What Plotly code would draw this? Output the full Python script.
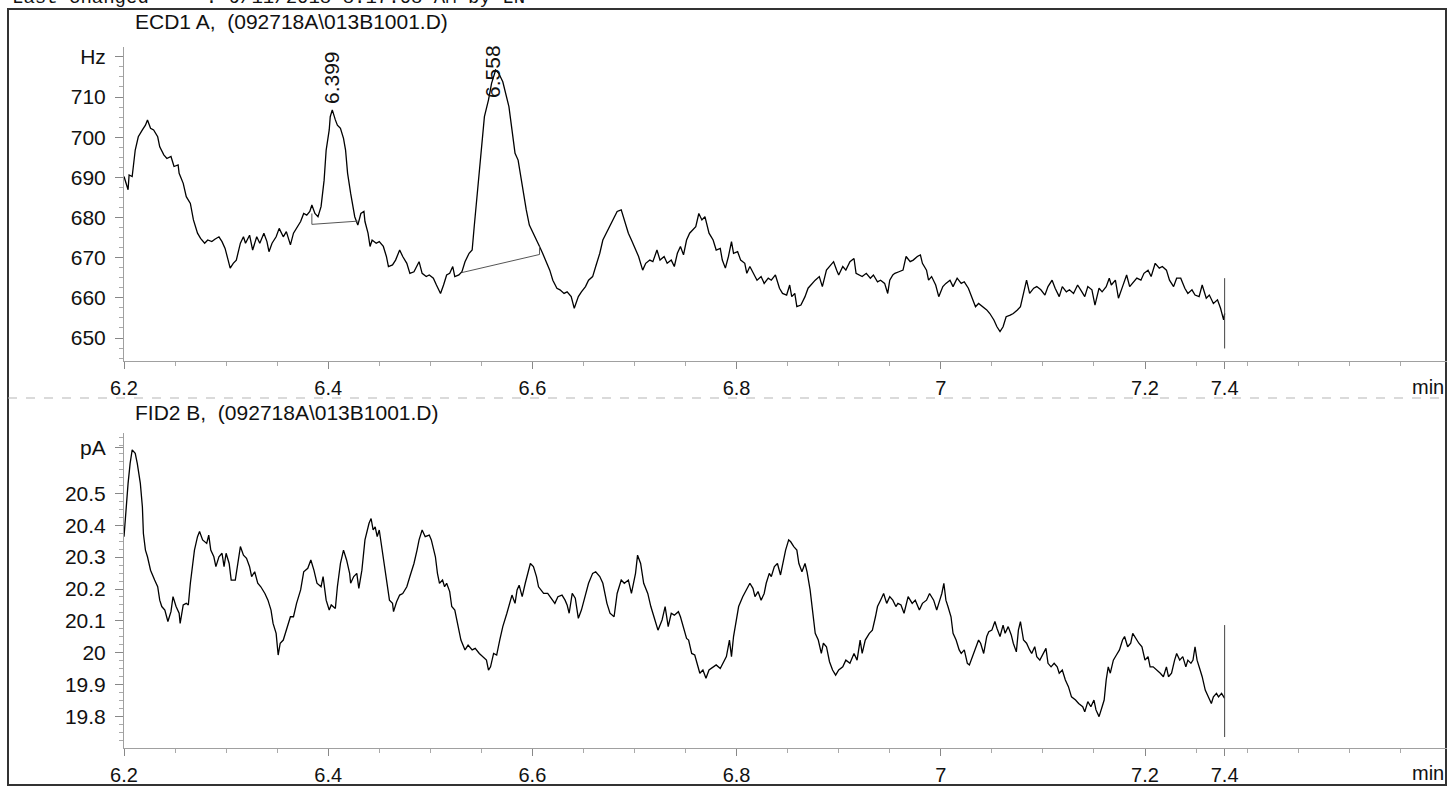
import plotly.graph_objects as go

# ---------------- data ----------------
ECD_T = [6.200, 6.204, 6.205, 6.208, 6.211, 6.214, 6.218, 6.221, 6.223, 6.226,
         6.229, 6.233, 6.235, 6.239, 6.242, 6.246, 6.249, 6.253, 6.254, 6.258,
         6.261, 6.265, 6.268, 6.272, 6.275, 6.279, 6.282, 6.286, 6.289, 6.293,
         6.296, 6.299, 6.302, 6.304, 6.307, 6.310, 6.314, 6.317, 6.319, 6.323,
         6.326, 6.330, 6.333, 6.337, 6.340, 6.342, 6.345, 6.349, 6.352, 6.356,
         6.359, 6.363, 6.366, 6.370, 6.373, 6.376, 6.379, 6.382, 6.384, 6.387,
         6.390, 6.393, 6.396, 6.398, 6.401, 6.402, 6.404, 6.407, 6.409, 6.412,
         6.415, 6.417, 6.419, 6.422, 6.424, 6.426, 6.429, 6.432, 6.435, 6.436,
         6.439, 6.441, 6.443, 6.447, 6.450, 6.454, 6.457, 6.459, 6.463, 6.466,
         6.470, 6.473, 6.477, 6.480, 6.484, 6.487, 6.489, 6.492, 6.496, 6.499,
         6.503, 6.506, 6.510, 6.513, 6.516, 6.519, 6.522, 6.524, 6.528, 6.531,
         6.534, 6.538, 6.541, 6.543, 6.547, 6.550, 6.553, 6.557, 6.560, 6.564,
         6.567, 6.571, 6.574, 6.577, 6.580, 6.583, 6.586, 6.588, 6.591, 6.594,
         6.597, 6.601, 6.604, 6.607, 6.610, 6.613, 6.617, 6.620, 6.624, 6.627,
         6.631, 6.634, 6.638, 6.641, 6.645, 6.648, 6.652, 6.655, 6.659, 6.662,
         6.666, 6.669, 6.673, 6.676, 6.680, 6.683, 6.687, 6.690, 6.694, 6.697,
         6.701, 6.704, 6.708, 6.711, 6.715, 6.718, 6.722, 6.725, 6.729, 6.732,
         6.736, 6.739,
         6.742, 6.745, 6.748, 6.751, 6.754, 6.758, 6.760, 6.763, 6.766, 6.769,
         6.770, 6.773, 6.777, 6.780, 6.784, 6.786, 6.789, 6.792, 6.795, 6.797,
         6.801, 6.804, 6.808, 6.810, 6.813, 6.817, 6.820, 6.824, 6.827, 6.831,
         6.834, 6.838, 6.842, 6.845, 6.849, 6.852, 6.854, 6.857, 6.859, 6.863,
         6.867, 6.870, 6.874, 6.877, 6.881, 6.884, 6.888, 6.891, 6.895, 6.898,
         6.900, 6.904, 6.907, 6.911, 6.915, 6.917, 6.920, 6.923, 6.927, 6.931,
         6.934, 6.938, 6.941, 6.945, 6.948, 6.950, 6.953, 6.955, 6.959, 6.963,
         6.966, 6.970, 6.973, 6.977, 6.980, 6.982, 6.986, 6.988, 6.991, 6.995,
         6.998, 7.002, 7.005, 7.009, 7.012, 7.016, 7.020, 7.023, 7.027, 7.030,
         7.034, 7.037, 7.041, 7.045, 7.048, 7.052, 7.055, 7.058, 7.061, 7.064,
         7.068, 7.071, 7.075, 7.078, 7.081, 7.084, 7.087, 7.091, 7.094, 7.098,
         7.102, 7.105, 7.109, 7.112, 7.116, 7.119, 7.123, 7.126, 7.130, 7.134,
         7.137, 7.141, 7.144, 7.148, 7.151, 7.155, 7.158, 7.162, 7.165, 7.167,
         7.171, 7.174, 7.178, 7.182, 7.185, 7.189, 7.192, 7.196, 7.199, 7.203,
         7.206, 7.210, 7.214, 7.217, 7.221, 7.224, 7.228, 7.231, 7.235, 7.239,
         7.242, 7.246, 7.249, 7.253, 7.256, 7.260, 7.263, 7.267, 7.271, 7.274,
         7.277, 7.278]

ECD_HZ = [690.2, 686.9, 690.6, 690.2, 696.8, 700.1, 701.8, 703.0, 704.3, 702.2,
          701.8, 700.1, 697.6, 695.6, 694.7, 695.2, 692.7, 693.1, 691.0, 688.5,
          685.2, 683.5, 679.4, 676.1, 674.8, 673.6, 674.4, 674.0, 674.6, 675.2,
          674.0, 672.3, 669.4, 667.4, 668.6, 669.4, 673.6, 675.2, 673.6, 675.6,
          671.9, 675.2, 673.6, 676.1, 674.0, 671.5, 673.6, 675.2, 677.3, 675.2,
          676.5, 673.2, 676.1, 677.7, 679.0, 681.0, 680.6, 681.5, 683.1, 681.0,
          680.2, 682.7, 689.3, 696.8, 701.8, 705.1, 706.8, 704.3, 703.0, 702.2,
          699.7, 696.8, 691.0, 686.0, 682.7, 680.2, 678.1, 681.0, 681.5, 679.0,
          676.1, 672.8, 674.4, 673.6, 674.0, 672.8, 670.3, 667.8, 668.2, 669.4,
          671.9, 670.3, 668.6, 666.1, 666.5, 667.8, 669.0, 666.1, 665.3, 665.7,
          664.9, 663.2, 661.1, 663.2, 665.7, 666.1, 667.8, 665.3, 665.7, 666.5,
          669.0, 671.1, 671.9, 677.7, 688.5, 697.6, 705.1, 709.3, 713.4, 716.7,
          715.9, 713.8, 710.9, 707.6, 701.8, 696.0, 694.3, 691.0, 686.0, 681.9,
          678.1, 676.1, 674.4, 672.8, 671.1, 669.4, 666.9, 664.4, 662.4, 662.0,
          661.1, 661.5, 660.3, 657.4, 660.3, 661.5, 662.8, 664.4, 665.3, 667.8,
          671.1, 674.4, 676.5, 677.7, 679.8, 681.5, 681.9, 679.4, 676.1, 674.4,
          671.9, 670.3, 666.9, 668.6, 669.4, 669.0, 671.9, 669.4, 670.3, 668.6,
          669.4, 667.8,
          671.1, 672.8, 670.7, 674.4, 676.1, 677.3, 677.7, 681.0, 679.4, 680.2,
          679.0, 676.1, 674.4, 671.9, 672.3, 669.4, 667.4, 670.3, 674.0, 671.1,
          671.5, 669.4, 668.6, 666.1, 667.8, 665.7, 664.4, 665.3, 663.6, 664.9,
          664.4, 665.7, 662.4, 661.1, 660.7, 663.2, 660.3, 661.1, 657.8, 658.2,
          660.3, 662.4, 663.6, 664.4, 665.3, 662.8, 666.9, 667.8, 669.0, 666.9,
          665.7, 667.8, 666.9, 669.0, 669.8, 666.1, 665.7, 665.3, 666.1, 664.9,
          665.7, 664.0, 664.4, 663.6, 661.1, 664.4, 665.7, 666.1, 666.5, 666.9,
          670.3, 669.0, 669.4, 670.3, 670.7, 668.6, 666.9, 664.4, 665.3, 663.2,
          660.3, 662.8, 663.6, 664.4, 662.8, 664.9, 663.6, 664.0, 662.4, 660.3,
          657.8, 658.6, 657.8, 657.0, 656.1, 654.5, 652.8, 651.6, 652.8, 655.3,
          655.7, 656.1, 657.0, 657.8, 661.1, 664.4, 661.1, 662.4, 662.8, 662.0,
          660.7, 662.8, 664.4, 662.4, 660.3, 662.8, 661.5, 662.0, 661.1, 663.2,
          662.0, 660.3, 662.8, 662.0, 658.2, 662.4, 661.5, 662.8, 664.9, 663.2,
          664.4, 659.9, 662.8, 665.7, 662.8, 664.0, 664.9, 664.4, 666.1, 666.9,
          665.3, 668.6, 667.4, 667.8, 666.9, 664.4, 662.8, 664.9, 664.9, 662.4,
          661.1, 662.0, 660.7, 660.3, 663.2, 659.9, 660.7, 658.6, 659.5, 657.4,
          654.5, 656.1]

FID_T = [6.200, 6.202, 6.204, 6.206, 6.208, 6.211, 6.213, 6.216, 6.218, 6.219,
         6.221, 6.223, 6.226, 6.230, 6.233, 6.235, 6.237, 6.240, 6.243, 6.246,
         6.248, 6.251, 6.254, 6.255, 6.258, 6.261, 6.263, 6.265, 6.269, 6.272,
         6.274, 6.277, 6.281, 6.283, 6.285, 6.288, 6.290, 6.293, 6.296, 6.298,
         6.300, 6.303, 6.305, 6.309, 6.312, 6.314, 6.317, 6.320, 6.323, 6.325,
         6.328, 6.331, 6.334, 6.338, 6.341, 6.344, 6.346, 6.349, 6.351, 6.353,
         6.356, 6.359, 6.363, 6.366, 6.369, 6.373, 6.376, 6.380, 6.383, 6.386,
         6.389, 6.393, 6.395, 6.398, 6.401, 6.403, 6.407, 6.409, 6.412, 6.415,
         6.418, 6.421, 6.422, 6.425, 6.428, 6.430, 6.433, 6.436, 6.438, 6.440,
         6.442, 6.444, 6.446, 6.448, 6.450, 6.453, 6.456, 6.458, 6.460, 6.463,
         6.464, 6.467, 6.470, 6.473, 6.477, 6.480, 6.484, 6.487, 6.489, 6.492,
         6.495, 6.499, 6.501, 6.505, 6.507, 6.509, 6.512, 6.514, 6.516, 6.519,
         6.521, 6.524, 6.527, 6.530, 6.534, 6.537, 6.541, 6.544, 6.548, 6.551,
         6.555, 6.557, 6.559, 6.562, 6.565, 6.568, 6.571, 6.575, 6.577, 6.580,
         6.583, 6.585, 6.587, 6.590, 6.593, 6.596, 6.598, 6.601, 6.604, 6.606,
         6.608, 6.611, 6.615, 6.618, 6.622, 6.625, 6.629, 6.632, 6.634, 6.636,
         6.639, 6.642, 6.645, 6.648, 6.652, 6.655, 6.659, 6.662, 6.666, 6.669,
         6.673, 6.676, 6.680, 6.683, 6.687, 6.690, 6.694, 6.697, 6.701, 6.703,
         6.706, 6.709, 6.713, 6.716, 6.720, 6.723, 6.727, 6.730, 6.733, 6.736,
         6.739,
         6.743, 6.745, 6.748, 6.751, 6.753, 6.756, 6.759, 6.762, 6.764, 6.767,
         6.770, 6.773, 6.777, 6.780, 6.784, 6.788, 6.790, 6.793, 6.795, 6.797,
         6.800, 6.802, 6.806, 6.810, 6.813, 6.816, 6.818, 6.821, 6.824, 6.827,
         6.829, 6.832, 6.834, 6.837, 6.840, 6.843, 6.845, 6.848, 6.851, 6.853,
         6.856, 6.859, 6.861, 6.864, 6.867, 6.869, 6.872, 6.874, 6.877, 6.880,
         6.883, 6.885, 6.888, 6.891, 6.894, 6.897, 6.900, 6.904, 6.907, 6.911,
         6.915, 6.918, 6.921, 6.923, 6.926, 6.930, 6.933, 6.936, 6.938, 6.941,
         6.944, 6.947, 6.950, 6.953, 6.956, 6.958, 6.961, 6.964, 6.968, 6.972,
         6.975, 6.979, 6.982, 6.986, 6.989, 6.993, 6.996, 6.999, 7.001, 7.003,
         7.005, 7.007, 7.010, 7.012, 7.015, 7.018, 7.020, 7.023, 7.026, 7.028,
         7.031, 7.034, 7.037, 7.039, 7.042, 7.045, 7.047, 7.050, 7.053, 7.055,
         7.058, 7.061, 7.063, 7.066, 7.069, 7.071, 7.074, 7.076, 7.078, 7.081,
         7.084, 7.087, 7.089, 7.092, 7.094, 7.097, 7.100, 7.103, 7.105, 7.108,
         7.111, 7.114, 7.116, 7.119, 7.122, 7.125, 7.128, 7.132, 7.135, 7.139,
         7.141, 7.144, 7.147, 7.150, 7.152, 7.155, 7.158, 7.160, 7.162, 7.164,
         7.166, 7.169, 7.172, 7.175, 7.178, 7.180, 7.183, 7.186, 7.188, 7.191,
         7.194, 7.197, 7.200, 7.203, 7.205, 7.208, 7.212, 7.215, 7.218, 7.221,
         7.223, 7.226, 7.229, 7.231, 7.234, 7.237, 7.240, 7.242, 7.245, 7.247,
         7.249, 7.251, 7.254, 7.256, 7.259, 7.262, 7.265, 7.267, 7.270, 7.272,
         7.275, 7.278]

FID_PA = [20.364, 20.458, 20.531, 20.594, 20.636, 20.625, 20.594, 20.531, 20.458, 20.374,
          20.322, 20.301, 20.259, 20.228, 20.207, 20.165, 20.145, 20.134, 20.098, 20.129,
          20.176, 20.145, 20.124, 20.092, 20.150, 20.155, 20.150, 20.218, 20.322, 20.364,
          20.380, 20.354, 20.343, 20.369, 20.322, 20.301, 20.270, 20.301, 20.312, 20.270,
          20.312, 20.280, 20.228, 20.228, 20.291, 20.333, 20.306, 20.296, 20.270, 20.239,
          20.254, 20.218, 20.207, 20.186, 20.165, 20.134, 20.092, 20.061, 19.993, 20.030,
          20.040, 20.071, 20.113, 20.113, 20.155, 20.197, 20.254, 20.265, 20.291, 20.259,
          20.218, 20.207, 20.239, 20.165, 20.134, 20.150, 20.139, 20.207, 20.280, 20.322,
          20.291, 20.249, 20.218, 20.239, 20.249, 20.202, 20.259, 20.354, 20.385, 20.406,
          20.421, 20.385, 20.395, 20.364, 20.385, 20.322, 20.259, 20.218, 20.165, 20.155,
          20.129, 20.160, 20.181, 20.186, 20.207, 20.239, 20.280, 20.322, 20.354, 20.385,
          20.364, 20.369, 20.354, 20.301, 20.249, 20.218, 20.228, 20.207, 20.218, 20.192,
          20.145, 20.134, 20.082, 20.040, 20.009, 20.024, 20.009, 20.014, 19.998, 19.988,
          19.977, 19.946, 19.956, 19.998, 19.993, 20.040, 20.082, 20.124, 20.145, 20.181,
          20.155, 20.197, 20.212, 20.176, 20.218, 20.259, 20.280, 20.270, 20.239, 20.207,
          20.197, 20.186, 20.186, 20.171, 20.155, 20.176, 20.181, 20.165, 20.150, 20.124,
          20.186, 20.171, 20.108, 20.134, 20.186, 20.218, 20.249, 20.254, 20.239, 20.218,
          20.155, 20.124, 20.113, 20.186, 20.228, 20.218, 20.228, 20.186, 20.249, 20.306,
          20.280, 20.218, 20.186, 20.145, 20.103, 20.071, 20.103, 20.145, 20.082, 20.124,
          20.118,
          20.129, 20.113, 20.082, 20.045, 20.040, 19.998, 19.993, 19.956, 19.936, 19.946,
          19.920, 19.946, 19.956, 19.962, 19.951, 19.977, 19.988, 20.040, 19.988, 20.051,
          20.103, 20.145, 20.176, 20.202, 20.218, 20.202, 20.176, 20.192, 20.165, 20.186,
          20.218, 20.249, 20.239, 20.270, 20.280, 20.244, 20.280, 20.322, 20.354, 20.348,
          20.333, 20.322, 20.280, 20.254, 20.280, 20.254, 20.197, 20.134, 20.061, 20.040,
          19.998, 20.030, 20.019, 19.972, 19.946, 19.930, 19.946, 19.956, 19.977, 19.967,
          19.998, 19.977, 20.040, 19.998, 20.040, 20.061, 20.071, 20.113, 20.145, 20.165,
          20.186, 20.155, 20.176, 20.165, 20.145, 20.155, 20.150, 20.124, 20.176, 20.155,
          20.165, 20.134, 20.155, 20.165, 20.186, 20.165, 20.134, 20.165, 20.186, 20.218,
          20.165, 20.145, 20.113, 20.061, 20.040, 20.009, 19.998, 20.009, 19.967, 19.962,
          19.988, 20.009, 20.040, 20.030, 19.998, 20.051, 20.066, 20.071, 20.098, 20.077,
          20.051, 20.087, 20.061, 20.082, 20.056, 20.030, 20.003, 20.071, 20.098, 20.040,
          20.030, 20.009, 19.998, 20.019, 19.988, 19.977, 19.998, 20.014, 19.967, 19.956,
          19.967, 19.956, 19.936, 19.946, 19.915, 19.894, 19.862, 19.852, 19.841, 19.831,
          19.815, 19.847, 19.831, 19.852, 19.821, 19.800, 19.831, 19.852, 19.915, 19.956,
          19.936, 19.977, 19.993, 20.009, 20.040, 20.051, 20.019, 20.030, 20.061, 20.045,
          20.030, 20.019, 19.977, 19.988, 19.956, 19.956, 19.946, 19.936, 19.925, 19.956,
          19.925, 19.936, 19.977, 19.998, 19.977, 19.988, 19.956, 19.977, 19.967, 19.977,
          20.019, 19.977, 19.946, 19.925, 19.883, 19.862, 19.841, 19.862, 19.873, 19.862,
          19.873, 19.857]

assert len(ECD_T) == len(ECD_HZ), (len(ECD_T), len(ECD_HZ))
assert len(FID_T) == len(FID_PA), (len(FID_T), len(FID_PA))

# integration baselines of the two ECD peaks
PK1_BASE_T = [6.384, 6.384, 6.429]
PK1_BASE_HZ = [681.0, 678.3, 679.1]
PK2_BASE_T = [6.531, 6.607, 6.607]
PK2_BASE_HZ = [666.3, 670.8, 672.8]

PEAK_LABELS = ["6.399", "6.558"]
PEAK_LABEL_T = [6.4034, 6.5614]
PEAK_LABEL_HZ = [714.9, 716.5]

# end-of-run markers
END_MARK_HZ = [647.4, 664.9]
END_MARK_PA = [19.736, 20.087]

X_TICKVALS = [6.2, 6.4, 6.6, 6.8, 7.0, 7.2, 7.278]
X_TICKTEXT = ["6.2", "6.4", "6.6", "6.8", "7", "7.2", "7.4"]
Y1_TICKVALS = [650, 660, 670, 680, 690, 700, 710, 720]
Y1_TICKTEXT = ["650", "660", "670", "680", "690", "700", "710", "Hz"]
Y2_TICKVALS = [19.8, 19.9, 20.0, 20.1, 20.2, 20.3, 20.4, 20.5, 20.642]
Y2_TICKTEXT = ["19.8", "19.9", "20", "20.1", "20.2", "20.3", "20.4", "20.5", "pA"]

TITLE_A = "ECD1 A,\u00a0\u00a0(092718A\\013B1001.D)"
TITLE_B = "FID2 B,\u00a0\u00a0(092718A\\013B1001.D)"
HEADER = "Last changed\u00a0\u00a0\u00a0\u00a0\u00a0: 9/11/2018 8:17:08 AM by LN"

# ---------------- figure ----------------
W, H = 1450, 787
ML, MR = 124, 3
PW = W - ML - MR


def px_x(px):
    return (px - ML) / PW


def px_y(py):
    return 1 - py / H


FONT = "Liberation Sans, Arial, sans-serif"
TXT = "#111111"
LINE = "#000000"

fig = go.Figure()

fig.add_trace(go.Scatter(x=ECD_T, y=ECD_HZ, mode="lines",
                         line=dict(color=LINE, width=1.3), xaxis="x", yaxis="y",
                         showlegend=False, hoverinfo="skip"))
fig.add_trace(go.Scatter(x=PK1_BASE_T, y=PK1_BASE_HZ, mode="lines",
                         line=dict(color="#555555", width=1), xaxis="x", yaxis="y",
                         showlegend=False, hoverinfo="skip"))
fig.add_trace(go.Scatter(x=PK2_BASE_T, y=PK2_BASE_HZ, mode="lines",
                         line=dict(color="#555555", width=1), xaxis="x", yaxis="y",
                         showlegend=False, hoverinfo="skip"))
fig.add_trace(go.Scatter(x=[ECD_T[-1], ECD_T[-1]], y=END_MARK_HZ, mode="lines",
                         line=dict(color="#444444", width=1), xaxis="x", yaxis="y",
                         showlegend=False, hoverinfo="skip"))

fig.add_trace(go.Scatter(x=FID_T, y=FID_PA, mode="lines",
                         line=dict(color=LINE, width=1.3), xaxis="x2", yaxis="y2",
                         showlegend=False, hoverinfo="skip"))
fig.add_trace(go.Scatter(x=[FID_T[-1], FID_T[-1]], y=END_MARK_PA, mode="lines",
                         line=dict(color="#444444", width=1), xaxis="x2", yaxis="y2",
                         showlegend=False, hoverinfo="skip"))

XR = [6.2, 6.2 + (1447 - 124) / 1021]

common_x = dict(range=XR, showline=True, linecolor="#a0a0a0", linewidth=1,
                ticks="outside", ticklen=7, tickcolor="#888888", tickwidth=1,
                tickmode="array", tickvals=X_TICKVALS, ticktext=X_TICKTEXT,
                tickfont=dict(family=FONT, size=20, color=TXT),
                ticklabelstandoff=2,
                showgrid=False, zeroline=False, automargin=False, fixedrange=True,
                minor=dict(tickmode="linear", tick0=6.2, dtick=0.05, ticks="outside",
                           ticklen=4, tickcolor="#aaaaaa", showgrid=False))

common_y = dict(showline=True, linecolor="#a0a0a0", linewidth=1,
                ticks="outside", ticklen=8, tickcolor="#888888", tickwidth=1,
                tickmode="array", tickfont=dict(family=FONT, size=21, color=TXT),
                ticklabelstandoff=5,
                showgrid=False, zeroline=False, automargin=False, fixedrange=True)

fig.update_layout(
    width=W, height=H,
    margin=dict(l=ML, r=MR, t=0, b=0, pad=0),
    paper_bgcolor="white", plot_bgcolor="white",
    xaxis=dict(anchor="y", domain=[0, 1], **common_x),
    xaxis2=dict(anchor="y2", domain=[0, 1], **common_x),
    yaxis=dict(anchor="x", domain=[px_y(361), px_y(47)],
               range=[644.28, 722.45], tickvals=Y1_TICKVALS, ticktext=Y1_TICKTEXT,
               minor=dict(tickmode="linear", tick0=650, dtick=2.5, ticks="outside",
                          ticklen=4, tickcolor="#aaaaaa", showgrid=False),
               **common_y),
    yaxis2=dict(anchor="x2", domain=[px_y(748), px_y(433)],
                range=[19.7016, 20.689], tickvals=Y2_TICKVALS, ticktext=Y2_TICKTEXT,
                minor=dict(tickmode="linear", tick0=19.8, dtick=0.025, ticks="outside",
                           ticklen=4, tickcolor="#aaaaaa", showgrid=False),
                **common_y),
    showlegend=False,
)

annotations = []
# panel titles
annotations.append(dict(text=TITLE_A, xref="paper", yref="paper", x=px_x(133), y=px_y(22),
                        xanchor="left", yanchor="middle", showarrow=False,
                        font=dict(family=FONT, size=21, color=TXT)))
annotations.append(dict(text=TITLE_B, xref="paper", yref="paper", x=px_x(133), y=px_y(412),
                        xanchor="left", yanchor="middle", showarrow=False,
                        font=dict(family=FONT, size=21, color=TXT)))
# "min" axis units
for py in (387, 773):
    annotations.append(dict(text="min", xref="paper", yref="paper", x=px_x(1446), y=px_y(py),
                            xanchor="right", yanchor="middle", showarrow=False,
                            font=dict(family=FONT, size=20, color=TXT)))
# header (cut off at the top of the page, as in the original print-out)
annotations.append(dict(text=HEADER, xref="paper", yref="paper", x=px_x(10), y=px_y(11),
                        xanchor="left", yanchor="bottom", showarrow=False,
                        font=dict(family="Liberation Mono, Courier New, monospace",
                                  size=19, color=TXT)))
# peak retention-time labels
for lab, t, v in zip(PEAK_LABELS, PEAK_LABEL_T, PEAK_LABEL_HZ):
    annotations.append(dict(text=lab, xref="x", yref="y", x=t, y=v, textangle=-90,
                            xanchor="center", yanchor="middle", showarrow=False,
                            font=dict(family=FONT, size=21, color=TXT)))
fig.update_layout(annotations=annotations)

shapes = [
    # outer frame
    dict(type="rect", xref="paper", yref="paper", x0=px_x(8), x1=px_x(1446),
         y0=px_y(785), y1=px_y(9), line=dict(color="#333333", width=2),
         fillcolor="rgba(0,0,0,0)", layer="below"),
    # divider between the two panels
    dict(type="line", xref="paper", yref="paper", x0=px_x(8), x1=px_x(1446),
         y0=px_y(398), y1=px_y(398), line=dict(color="#b5b5b5", width=1, dash="dash")),
]
fig.update_layout(shapes=shapes)

fig.write_html("out.html", include_plotlyjs=True, full_html=True,
               config={"displayModeBar": False, "staticPlot": True},
               post_script="document.body.style.margin='0';document.body.style.overflow='hidden';")
